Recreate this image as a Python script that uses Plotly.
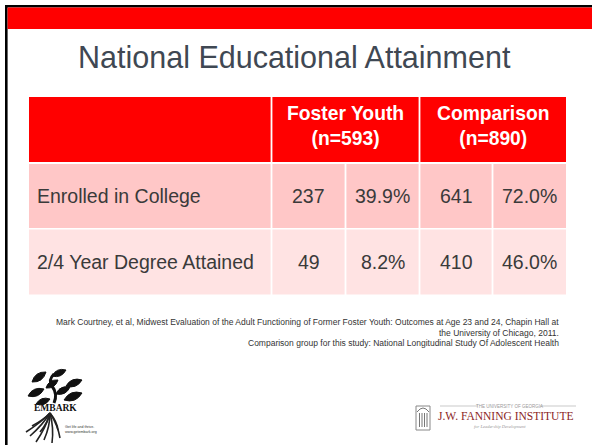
import plotly.graph_objects as go

# ---------------- data ----------------
title = "National Educational Attainment"
categories = ["Enrolled in College", "2/4 Year Degree Attained"]
groups = ["Foster Youth", "Comparison"]
group_n = [593, 890]
foster_counts = [237, 49]
foster_pct = [39.9, 8.2]
comparison_counts = [641, 410]
comparison_pct = [72.0, 46.0]
footnotes = [
    "Mark Courtney, et al, Midwest Evaluation of the Adult Functioning of Former Foster Youth: Outcomes at Age 23 and 24, Chapin Hall at",
    "the University of Chicago, 2011.",
    "Comparison group for this study: National Longitudinal Study Of Adolescent Health",
]

# ---------------- layout constants ----------------
W, H = 592, 445
col_edges = [29, 271.5, 345.5, 419.5, 492.5, 566]
header_y = (97, 162)
row_y = [(164, 228), (229.5, 294.5)]
row_fills = ["#FFC7C7", "#FFE3E3"]
GAP = 1.8
RED = "#FF0000"
TXT = "#3A3A3A"
FONT = "Arial, Liberation Sans, sans-serif"

shapes = []
annotations = []


def rect(x0, y0, x1, y1, fill, line=None):
    shapes.append(dict(type="rect", xref="x", yref="y", x0=x0, x1=x1, y0=y0, y1=y1,
                       fillcolor=fill, line=dict(width=0) if line is None else line,
                       layer="below"))


def text(x, y, s, size, color=TXT, bold=False, xanchor="center", family=FONT, italic=False):
    if bold:
        s = "<b>" + s + "</b>"
    if italic:
        s = "<i>" + s + "</i>"
    annotations.append(dict(x=x, y=y, xref="x", yref="y", text=s, showarrow=False,
                            xanchor=xanchor, yanchor="middle",
                            font=dict(size=size, color=color, family=family)))


# slide frame and top bar
rect(5, 5, W + 10, 7.6, "#000000")
rect(5, 5, 7.6, H + 10, "#000000")
rect(7.6, 7.6, W + 10, 29, RED)

# title
text(294, 57, title, 30.5, color="#3F4853")

# header cells
h0, h1 = header_y
rect(col_edges[0], h0, col_edges[1] - GAP / 2, h1, RED)
for g in range(2):
    x0 = col_edges[1 + 2 * g] + GAP / 2
    x1 = col_edges[3 + 2 * g] - (GAP / 2 if g == 0 else 0)
    rect(x0, h0, x1, h1, RED)
    text((x0 + x1) / 2, (h0 + h1) / 2 - 3.5,
         f"{groups[g]}<br>(n={group_n[g]})", 19.3, color="white", bold=True)

# body cells
for r, cat in enumerate(categories):
    y0, y1 = row_y[r]
    vals = [cat, str(foster_counts[r]), f"{foster_pct[r]:.1f}%",
            str(comparison_counts[r]), f"{comparison_pct[r]:.1f}%"]
    for c in range(5):
        x0 = col_edges[c] + (GAP / 2 if c > 0 else 0)
        x1 = col_edges[c + 1] - (GAP / 2 if c < 4 else 0)
        rect(x0, y0, x1, y1, row_fills[r])
        if c == 0:
            text(x0 + 6, (y0 + y1) / 2, vals[c], 19.5, xanchor="left")
        else:
            text((x0 + x1) / 2, (y0 + y1) / 2, vals[c], 19.5)

# footnotes
for i, (s, yy) in enumerate(zip(footnotes, [322, 332.5, 343])):
    text(561, yy, s, 8.5, color="#333333", xanchor="right")

# ---------------- EMBARK logo (approximation) ----------------
leaves = [
    (32, 382, 46, 372), (52, 376, 66, 370), (66, 386, 82, 380),
    (28, 396, 44, 389), (64, 400, 82, 393), (46, 388, 58, 380),
    (56, 394, 70, 387), (36, 404, 50, 399),
]
for (ax, ay, bx, by) in leaves:
    mx, my = (ax + bx) / 2, (ay + by) / 2
    dx, dy = (bx - ax), (by - ay)
    px, py = -dy * 0.4, dx * 0.4
    shapes.append(dict(type="path", xref="x", yref="y",
                       path=f"M {ax},{ay} Q {mx + px},{my + py} {bx},{by} Q {mx - px},{my - py} {ax},{ay} Z",
                       fillcolor="#111111", line=dict(color="#111111", width=1)))
shapes.append(dict(type="path", xref="x", yref="y",
                   path="M 54,403 Q 58,394 52,386 Q 48,380 54,374",
                   line=dict(color="#111111", width=3)))
text(55, 407.5, "EMBARK", 9.5, color="#111111", bold=True, family="Liberation Serif, Times New Roman, serif")
roots = [(30, 436), (36, 442), (44, 440), (52, 443), (60, 438), (32, 426), (40, 432), (58, 430), (26, 432)]
for (rx, ry) in roots:
    shapes.append(dict(type="path", xref="x", yref="y",
                       path=f"M 50,413 Q {(50 + rx) / 2 + 3},{(413 + ry) / 2} {rx},{ry}",
                       line=dict(color="#222222", width=1.6)))
text(63, 427, "Get life and thrive.", 3.6, color="#333333", xanchor="left")
text(63, 432, "www.getembark.org", 3.6, color="#333333", xanchor="left")

# ---------------- Fanning Institute logo (approximation) ----------------
rect(416, 406, 430, 430, "white", line=dict(color="#888888", width=1))
shapes.append(dict(type="path", xref="x", yref="y", path="M 417,412 Q 423,404 429,412",
                   line=dict(color="#777777", width=1)))
for cx in [419.5, 422, 424.5, 427]:
    shapes.append(dict(type="line", xref="x", yref="y", x0=cx, x1=cx, y0=413, y1=427,
                       line=dict(color="#777777", width=1)))
shapes.append(dict(type="line", xref="x", yref="y", x0=440, x1=478, y0=406, y1=406,
                   line=dict(color="#bbbbbb", width=0.8)))
shapes.append(dict(type="line", xref="x", yref="y", x0=540, x1=576, y0=406, y1=406,
                   line=dict(color="#bbbbbb", width=0.8)))
text(509, 406, "THE UNIVERSITY OF GEORGIA", 4.5, color="#999999")
text(436, 416, "J.W. FANNING INSTITUTE", 11.5, color="#8B1E1E", xanchor="left",
     family="Liberation Serif, Times New Roman, serif")
text(500, 426, "for Leadership Development", 4.5, color="#999999", italic=True,
     family="Liberation Serif, Times New Roman, serif")

fig = go.Figure()
fig.update_layout(
    width=W, height=H,
    margin=dict(l=0, r=0, t=0, b=0),
    paper_bgcolor="white", plot_bgcolor="white",
    xaxis=dict(range=[0, W], visible=False, fixedrange=True),
    yaxis=dict(range=[H, 0], visible=False, fixedrange=True),
    shapes=shapes, annotations=annotations,
    showlegend=False,
)
fig.write_html("out.html", config={"displayModeBar": False},
               post_script=("document.body.style.margin='0';"
                            "document.body.style.overflow='hidden';"
                            "document.documentElement.style.overflow='hidden';"
                            "document.body.style.background='white';"))
